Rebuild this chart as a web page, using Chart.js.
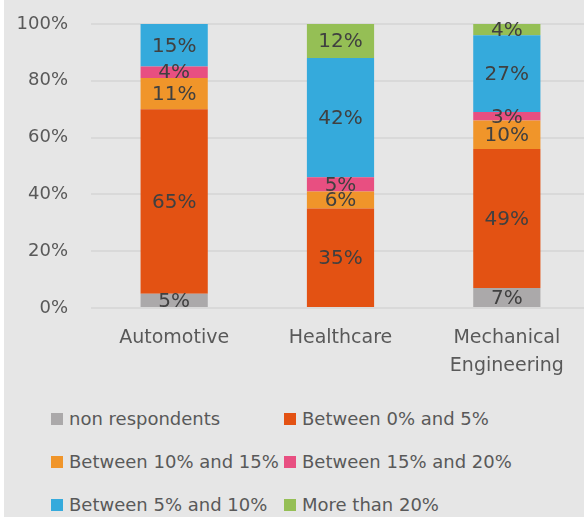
<!DOCTYPE html>
<html>
<head>
<meta charset="utf-8">
<script src="https://cdn.jsdelivr.net/npm/chart.js@4"></script>
<style>
  html, body { margin: 0; padding: 0; background: #ffffff; overflow: hidden; }
  #panel { position: absolute; left: 4px; top: 0; width: 600px; height: 517px; background: #e6e6e6; }
  #chartBox { position: absolute; left: 0; top: 0; width: 586px; height: 390px; }
  #legend { position: absolute; left: 47px; top: 397px; display: grid;
            grid-template-columns: 233px 240px; grid-auto-rows: 43px;
            font-family: "DejaVu Sans", sans-serif; font-size: 18px; color: #595959; }
  .item { display: flex; align-items: center; white-space: nowrap; }
  .swatch { width: 12px; height: 12px; margin-right: 6px; flex: none; }
</style>
</head>
<body>
<div id="panel">
  <div id="chartBox"><canvas id="shareChart"></canvas></div>
  <div id="legend"></div>
</div>
<script>
const categories = ['Automotive', 'Healthcare', ['Mechanical', 'Engineering']];
const seriesNames = ['non respondents', 'Between 0% and 5%', 'Between 10% and 15%',
                     'Between 15% and 20%', 'Between 5% and 10%', 'More than 20%'];
const seriesColors = ['#aba9aa', '#e35213', '#f0952a', '#e84f81', '#35aadc', '#95bf55'];

const nonRespondents = [5, 0, 7];
const between0and5 = [65, 35, 49];
const between10and15 = [11, 6, 10];
const between15and20 = [4, 5, 3];
const between5and10 = [15, 42, 27];
const moreThan20 = [0, 12, 4];

const yTicks = [0, 20, 40, 60, 80, 100];

const seriesValues = [nonRespondents, between0and5, between10and15,
                      between15and20, between5and10, moreThan20];

// values written in the middle of each segment
const barLabels = {
  id: 'barLabels',
  afterDatasetsDraw(chart) {
    const ctx = chart.ctx;
    ctx.save();
    ctx.font = '20px "DejaVu Sans"';
    ctx.fillStyle = '#404040';
    ctx.textAlign = 'center';
    ctx.textBaseline = 'middle';
    chart.data.datasets.forEach((ds, i) => {
      const meta = chart.getDatasetMeta(i);
      meta.data.forEach((bar, j) => {
        const v = ds.data[j];
        if (!v) return;
        ctx.fillText(v + '%', bar.x, (bar.y + bar.base) / 2 + 1);
      });
    });
    ctx.restore();
  }
};

const datasets = seriesNames.map((name, i) => ({
  label: name,
  data: seriesValues[i],
  backgroundColor: seriesColors[i],
  borderWidth: 0,
  barPercentage: 0.404,
  categoryPercentage: 1
}));

new Chart(document.getElementById('shareChart'), {
  type: 'bar',
  data: { labels: categories, datasets: datasets },
  options: {
    responsive: true,
    maintainAspectRatio: false,
    animation: false,
    layout: { padding: { top: 24, bottom: 0, left: 0, right: 0 } },
    plugins: { legend: { display: false }, tooltip: { enabled: false } },
    scales: {
      x: {
        stacked: true,
        grid: { display: false, drawTicks: false },
        border: { display: false },
        ticks: {
          color: '#595959',
          padding: 16,
          maxRotation: 0,
          autoSkip: false,
          font: { family: 'DejaVu Sans', size: 19, lineHeight: 1.47 }
        },
        afterFit(scale) { scale.height = 82; }
      },
      y: {
        stacked: true,
        min: 0,
        max: 100,
        afterBuildTicks(scale) { scale.ticks = yTicks.map(v => ({ value: v })); },
        grid: { color: '#d9d9d9', lineWidth: 2, drawTicks: false, tickLength: 0 },
        border: { display: false },
        ticks: {
          color: '#595959',
          padding: 23,
          font: { family: 'DejaVu Sans', size: 18 },
          callback: v => v + '%'
        },
        afterFit(scale) {
          scale.width = 87;
          scale.paddingTop = 0;
          scale.paddingBottom = 0;
        }
      }
    }
  },
  plugins: [barLabels]
});

const legendEl = document.getElementById('legend');
seriesNames.forEach((name, i) => {
  const item = document.createElement('div');
  item.className = 'item';
  const sw = document.createElement('span');
  sw.className = 'swatch';
  sw.style.background = seriesColors[i];
  const txt = document.createElement('span');
  txt.textContent = name;
  item.appendChild(sw);
  item.appendChild(txt);
  legendEl.appendChild(item);
});
</script>
</body>
</html>
